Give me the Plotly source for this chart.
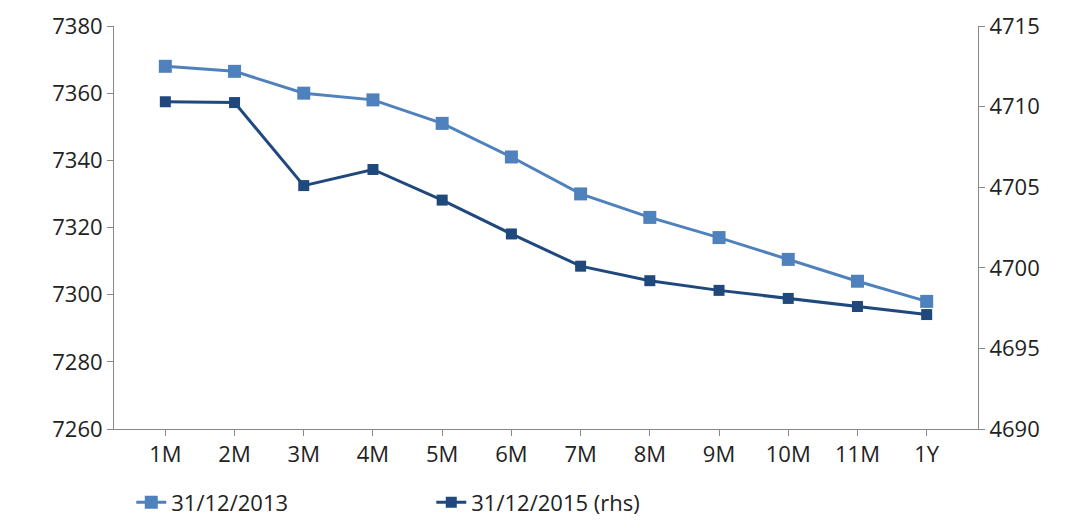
import plotly.graph_objects as go

tenors = ["1M", "2M", "3M", "4M", "5M", "6M", "7M", "8M", "9M", "10M", "11M", "1Y"]
s2013 = [7368, 7366.5, 7360, 7358, 7351, 7341, 7330, 7323, 7317, 7310.5, 7304, 7298]
s2015 = [4710.3, 4710.25, 4705.1, 4706.1, 4704.2, 4702.1, 4700.1, 4699.2, 4698.6, 4698.1, 4697.6, 4697.1]

fig = go.Figure()
fig.add_trace(go.Scatter(x=tenors, y=s2013, name="31/12/2013", mode="lines+markers",
                         line=dict(color="#4F81BD", width=3),
                         marker=dict(symbol="square", size=13, color="#4F81BD")))
fig.add_trace(go.Scatter(x=tenors, y=s2015, name="31/12/2015 (rhs)", mode="lines+markers",
                         yaxis="y2", line=dict(color="#1F497D", width=3),
                         marker=dict(symbol="square", size=11, color="#1F497D")))

axis_font = dict(family="Open Sans, Liberation Sans", size=22, color="#222")
fig.update_layout(
    width=1088, height=529, plot_bgcolor="white", paper_bgcolor="white",
    margin=dict(l=106, r=118, t=18, b=108, autoexpand=False),
    font=axis_font,
    xaxis=dict(showline=True, linecolor="#888", showgrid=False, ticks="outside",
               tickcolor="#888", ticklen=6, automargin=False),
    yaxis=dict(range=[7260, 7380], dtick=20, showline=True, linecolor="#888",
               showgrid=False, ticks="outside", tickcolor="#888", ticklen=6,
               automargin=False),
    yaxis2=dict(range=[4690, 4715], dtick=5, overlaying="y", side="right",
                showline=True, linecolor="#888", showgrid=False, ticks="outside",
                tickcolor="#888", ticklen=6, automargin=False),
    legend=dict(orientation="h", x=0.02, y=-0.13, xanchor="left", yanchor="top",
                font=axis_font, entrywidth=255),
    showlegend=True,
)
fig.write_html("out.html")
